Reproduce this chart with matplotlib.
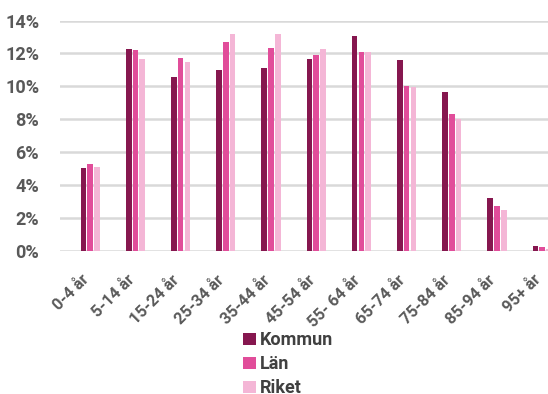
import matplotlib.pyplot as plt
import matplotlib.transforms as mtransforms
import numpy as np

plt.rcParams['font.family'] = ['Roboto', 'DejaVu Sans']

age_groups = ["0-4 år", "5-14 år", "15-24 år", "25-34 år", "35-44 år", "45-54 år",
              "55- 64 år", "65-74 år", "75-84 år", "85-94 år", "95+ år"]
kommun = [5.03, 12.28, 10.60, 10.99, 11.09, 11.64, 13.09, 11.61, 9.67, 3.21, 0.32]
lan = [5.27, 12.24, 11.70, 12.67, 12.34, 11.88, 12.06, 10.04, 8.32, 2.76, 0.24]
riket = [5.11, 11.64, 11.47, 13.19, 13.17, 12.28, 12.06, 9.94, 8.02, 2.50, 0.15]

series = [("Kommun", kommun, "#86174f"),
          ("Län", lan, "#e14d9a"),
          ("Riket", riket, "#f4b6d6")]

fig = plt.figure(figsize=(5.48, 3.94), dpi=100)
ax = fig.add_axes([60 / 548, (394 - 251.3) / 394, 1 - 60 / 548, (251.3 - 20.5) / 394])

x = np.arange(len(age_groups))
step = 0.15
width = 0.126
for i, (name, vals, col) in enumerate(series):
    ax.bar(x + (i - 1) * step, vals, width=width, color=col, label=name, zorder=3)

ax.set_xlim(-0.67, 10.13)
ax.set_ylim(0, 14)
ax.set_yticks(range(0, 15, 2))
ax.set_yticklabels([f"{v}%" for v in range(0, 15, 2)])
ax.yaxis.grid(True, color="#d9d9d9", linewidth=1.8, zorder=0)
ax.set_axisbelow(True)
for s in ax.spines.values():
    s.set_visible(False)
ax.tick_params(axis="both", length=0, colors="#595959")
ax.tick_params(axis="y", pad=15, labelsize=13)
for t in ax.get_yticklabels():
    t.set_fontweight("bold")

ax.set_xticks(x)
ax.set_xticklabels(age_groups, rotation=45, ha="right", rotation_mode="anchor",
                   fontweight="bold", fontsize=11.7)
ax.tick_params(axis="x", pad=10)
# nudge the rotated labels down-left so they sit under their groups
shift = mtransforms.ScaledTranslation(-0.09, -0.07, fig.dpi_scale_trans)
for lbl in ax.get_xticklabels():
    lbl.set_transform(lbl.get_transform() + shift)

leg = fig.legend(loc="upper left", bbox_to_anchor=(227 / 548, 1 - 315 / 394),
                 frameon=False, handlelength=0.7, handleheight=0.7,
                 handletextpad=0.2, labelspacing=0.33,
                 prop={"weight": "bold", "size": 13})
for t in leg.get_texts():
    t.set_color("#404040")

fig.savefig("out.png", dpi=100)
